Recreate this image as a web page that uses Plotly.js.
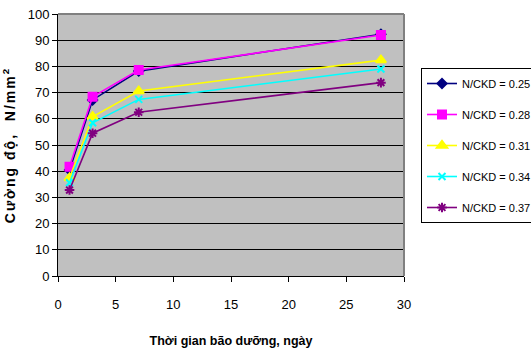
<!DOCTYPE html>
<html>
<head>
<meta charset="utf-8">
<script src="https://cdn.plot.ly/plotly-3.0.1.min.js"></script>
<style>html,body{margin:0;padding:0;background:#fff;}#chart{width:531px;height:354px;}</style>
</head>
<body>
<div id="chart"></div>
<script>
var days = [1, 3, 7, 28];
var seriesNames = ["N/CKD = 0.25", "N/CKD = 0.28", "N/CKD = 0.31", "N/CKD = 0.34", "N/CKD = 0.37"];
var s025 = [40.5, 67.2, 78.2, 92.3];
var s028 = [41.7, 68.4, 78.6, 92.0];
var s031 = [37.4, 60.8, 70.6, 82.4];
var s034 = [35.6, 58.5, 67.4, 79.0];
var s037 = [32.8, 54.5, 62.5, 73.8];
var xTitle = "Thời gian bão dưỡng, ngày";
var yTitle = "Cường độ,  N/mm<sup>2</sup>";

var allSeries = [s025, s028, s031, s034, s037];
var colors = ["#000080", "#ff00ff", "#ffff00", "#00ffff", "#800080"];
var symbols = ["diamond", "square", "triangle-up", "x-thin-open", "asterisk-open"];
var msizes = [7, 8, 9, 7, 8];

var traces = allSeries.map(function (vals, i) {
  return {
    x: days, y: vals, name: seriesNames[i], type: "scatter", mode: "lines+markers",
    legendgroup: "g" + i,
    line: {color: colors[i], width: 1.6},
    marker: {symbol: symbols[i], size: msizes[i], color: colors[i], line: {color: colors[i], width: 2}}
  };
});

var fam = "Liberation Sans, Arial, sans-serif";
var layout = {
  width: 531, height: 354,
  margin: {l: 58, r: 127, t: 14, b: 78, autoexpand: false},
  paper_bgcolor: "#ffffff",
  plot_bgcolor: "#c0c0c0",
  font: {family: fam, size: 13, color: "#000"},
  showlegend: true,
  legend: {
    xref: "container", yref: "container",
    x: 421 / 531, y: 1 - 68 / 354, xanchor: "left", yanchor: "top",
    bordercolor: "#000", borderwidth: 1, bgcolor: "#fff",
    font: {family: fam, size: 11, color: "#000"},
    tracegroupgap: 12, itemwidth: 30
  },
  xaxis: {
    range: [0, 30], dtick: 5, tick0: 0,
    showgrid: false, zeroline: false,
    showline: true, linecolor: "#000", linewidth: 1, mirror: false,
    ticks: "outside", ticklen: 5, tickcolor: "#000",
    tickfont: {family: fam, size: 13},
    ticklabelstandoff: 11,
    automargin: false,
    title: {text: xTitle, font: {family: fam, size: 12.5, weight: "bold"}, standoff: 25}
  },
  yaxis: {
    range: [0, 100], dtick: 10, tick0: 0,
    showgrid: true, gridcolor: "#000", gridwidth: 1, zeroline: false,
    showline: true, linecolor: "#000", linewidth: 1,
    ticks: "outside", ticklen: 5, tickcolor: "#000",
    tickfont: {family: fam, size: 13},
    automargin: false,
    title: {text: yTitle, font: {family: fam, size: 14, weight: "bold"}, standoff: 14}
  },
  shapes: [
    {type: "line", xref: "paper", yref: "paper", x0: 0, x1: 1, y0: 1, y1: 1, line: {color: "#808080", width: 2}},
    {type: "line", xref: "paper", yref: "paper", x0: 1, x1: 1, y0: 0, y1: 1, line: {color: "#808080", width: 2}}
  ]
};

Plotly.newPlot("chart", traces, layout, {displayModeBar: false, staticPlot: true}).then(function (gd) {
  var yt = gd.querySelector(".ytitle");
  if (yt) { yt.style.letterSpacing = "2px"; }
});
</script>
</body>
</html>
